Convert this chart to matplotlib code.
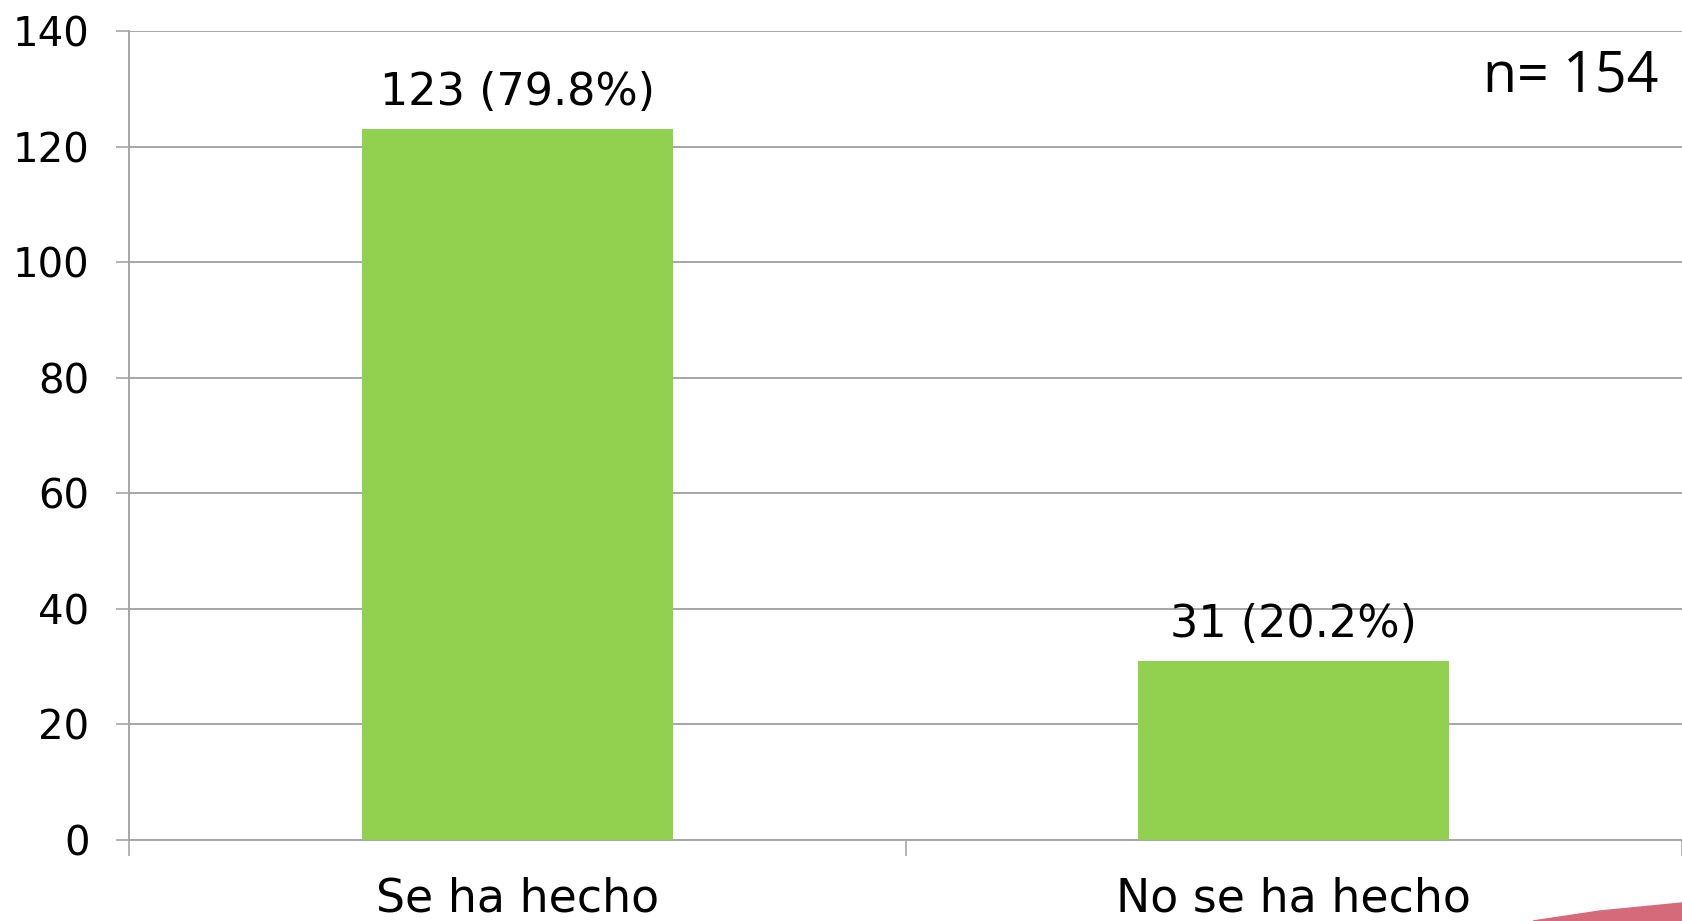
import matplotlib.pyplot as plt
from matplotlib.patches import Polygon

categories = ["Se ha hecho", "No se ha hecho"]
counts = [123, 31]
percents = [79.8, 20.2]
n_total = 154
yticks = [0, 20, 40, 60, 80, 100, 120, 140]

green = "#92D050"
grid_gray = "#A6A6A6"

fig = plt.figure(figsize=(16.82, 9.21), dpi=100)
ax = fig.add_axes([0.0767, 0.0879, 0.9233, 0.8784])

x = list(range(len(categories)))
bars = ax.bar(x, counts, width=0.4, color=green, zorder=3)

labels = ["%d (%.1f%%)" % (c, p) for c, p in zip(counts, percents)]
ax.bar_label(bars, labels=labels, padding=11, fontsize=32, family="DejaVu Sans")

ax.set_ylim(0, 140)
ax.set_xlim(-0.5, -0.5 + (1682 - 129) / 781)
ax.set_yticks(yticks)
ax.set_yticklabels([str(t) for t in yticks], fontsize=29)
ax.yaxis.grid(True, color=grid_gray, linewidth=1.4, zorder=0)

# category labels at centres, boundary ticks as minor ticks
ax.set_xticks(x)
ax.set_xticklabels(categories, fontsize=33)
ax.set_xticks([-0.5, 0.5, 1.5], minor=True)
ax.tick_params(axis="x", which="major", length=0, pad=26)
ax.tick_params(axis="x", which="minor", length=11.5, color=grid_gray, width=1.2)
ax.tick_params(axis="y", length=9.4, color=grid_gray, width=1.2, pad=19)

for side in ["top", "right"]:
    ax.spines[side].set_visible(False)
for side in ["left", "bottom"]:
    ax.spines[side].set_color(grid_gray)
    ax.spines[side].set_linewidth(1.4)

fig.text(0.9857, 0.901, "n= %d" % n_total, ha="right", va="baseline",
         fontsize=40, family="Open Sans")

# decorative swoosh at the lower right corner
swoosh = Polygon([[1533 / 1682, 0.0], [1.0, 0.0], [1.0, 18 / 921],
                  [1600 / 1682, 10 / 921]], closed=True,
                 transform=fig.transFigure, color="#D46A7A", zorder=0)
fig.patches.append(swoosh)

fig.savefig("out.png", dpi=100)
